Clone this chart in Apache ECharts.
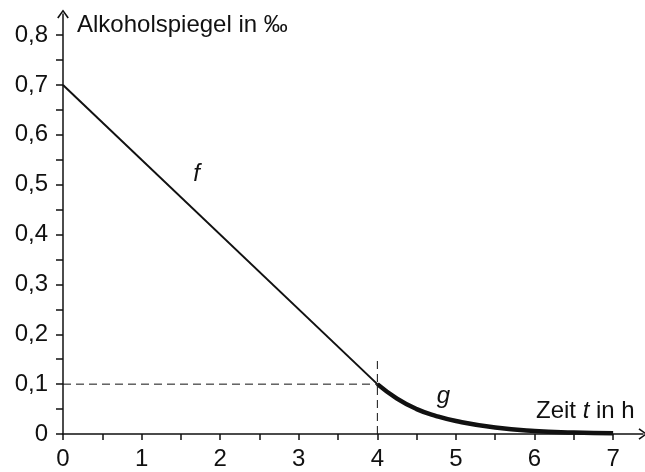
<!DOCTYPE html>
<html>
<head>
<meta charset="utf-8">
<script src="https://cdn.jsdelivr.net/npm/echarts@6/dist/echarts.min.js"></script>
<style>
  html, body { margin: 0; padding: 0; background: #fff; }
  #chart { width: 645px; height: 472px; }
</style>
</head>
<body>
<div id="chart"></div>
<script>
// f: linear decrease, g: decay after 4 h
var fData = [[0, 0.7], [4, 0.1]];
var gTimes = [4, 4.25, 4.5, 4.75, 5, 5.5, 6, 6.5, 7];
var gValues = [0.1, 0.071, 0.050, 0.036, 0.026, 0.013, 0.006, 0.003, 0.0015];
var xLabels = [0, 1, 2, 3, 4, 5, 6, 7];
var xTicks = [0, 0.5, 1, 1.5, 2, 2.5, 3, 3.5, 4, 4.5, 5, 5.5, 6, 6.5, 7];
var yLabels = [0, 0.1, 0.2, 0.3, 0.4, 0.5, 0.6, 0.7, 0.8];
var yTicks = [0, 0.05, 0.1, 0.15, 0.2, 0.25, 0.3, 0.35, 0.4, 0.45, 0.5, 0.55, 0.6, 0.65, 0.7, 0.75, 0.8];
var hLine = [[0, 0.1], [4, 0.1]];
var vLine = [[4, 0], [4, 0.155]];

var gData = gTimes.map(function (t, i) { return [t, gValues[i]]; });

var font = 'Liberation Sans, Arial, sans-serif';
var ink = '#111';
// open arrow head pointing up (rotated by the axis)
var arrowPath = 'path://M6,0 L12,8.2 L10.6,9.2 L6,2.6 L1.4,9.2 L0,8.2 Z';

// invisible anchor for the curve names
function nameMark(x, y, txt) {
  return {
    symbol: 'circle',
    symbolSize: 1,
    itemStyle: { color: 'rgba(0,0,0,0)' },
    data: [{ coord: [x, y] }],
    label: {
      show: true, position: 'inside', formatter: txt,
      fontFamily: font, fontStyle: 'italic', fontSize: 24, color: ink
    }
  };
}

var chart = echarts.init(document.getElementById('chart'));

var option = {
  animation: false,
  grid: { left: 63, right: 2, top: 14, bottom: 38 },
  xAxis: {
    type: 'value',
    min: 0,
    max: 7.38,
    axisLine: {
      lineStyle: { color: ink, width: 1.5 },
      symbol: ['none', arrowPath],
      symbolSize: [12, 9]
    },
    axisTick: { show: true, customValues: xTicks, length: 6, lineStyle: { color: ink, width: 1.5 } },
    axisLabel: {
      customValues: xLabels,
      margin: 13,
      fontFamily: font, fontSize: 24, color: ink,
      formatter: function (v) { return String(v); }
    },
    splitLine: { show: false }
  },
  yAxis: {
    type: 'value',
    min: 0,
    max: 0.8424,
    axisLine: {
      show: true,
      lineStyle: { color: ink, width: 1.5 },
      symbol: ['none', arrowPath],
      symbolSize: [12, 9]
    },
    axisTick: { show: true, customValues: yTicks, length: 7, lineStyle: { color: ink, width: 1.5 } },
    axisLabel: {
      customValues: yLabels,
      margin: 15,
      fontFamily: font, fontSize: 24, color: ink,
      formatter: function (v) { return v === 0 ? '0' : v.toFixed(1).replace('.', ','); }
    },
    splitLine: { show: false }
  },
  graphic: [
    {
      type: 'text', left: 77, top: 13,
      style: { text: 'Alkoholspiegel in ‰', font: '24px ' + font, fill: ink }
    },
    {
      type: 'text', left: 536, top: 399,
      style: {
        text: 'Zeit {i|t} in h',
        font: '24px ' + font, fill: ink,
        rich: { i: { fontStyle: 'italic', fontFamily: font, fontSize: 24, fill: ink } }
      }
    }
  ],
  series: [
    {
      type: 'line', data: hLine, symbol: 'none', silent: true,
      lineStyle: { color: ink, width: 1, type: [8, 5] }
    },
    {
      type: 'line', data: vLine, symbol: 'none', silent: true,
      lineStyle: { color: ink, width: 1, type: [8, 5] }
    },
    {
      name: 'f', type: 'line', data: fData, symbol: 'none',
      lineStyle: { color: ink, width: 2 },
      markPoint: nameMark(1.7, 0.52, 'f')
    },
    {
      name: 'g', type: 'line', data: gData, symbol: 'none', smooth: true,
      lineStyle: { color: ink, width: 4.5 },
      markPoint: nameMark(4.84, 0.076, 'g')
    }
  ]
};

chart.setOption(option);
</script>
</body>
</html>
